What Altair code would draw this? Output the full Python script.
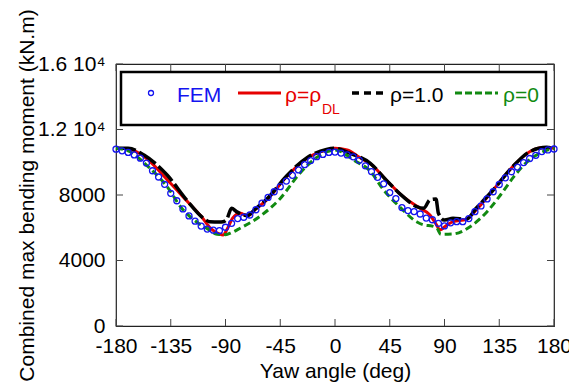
import altair as alt
import pandas as pd

# ---------------- data ----------------
fem_angle = list(range(-180, 181, 5))
fem_moment = [10800, 10700, 10600, 10450, 10250, 9950, 9480, 9100, 8650, 8100,
              7650, 7150, 6720, 6400, 6100, 5920, 5850, 5820, 6030, 6270,
              6560, 6640, 6780, 7100, 7500, 7850, 8200, 8510, 8850, 9200,
              9530, 9850, 10100, 10340, 10480, 10600, 10620, 10560, 10450, 10330,
              10120, 9780, 9430, 9080, 8680, 8150, 7780, 7230, 7050, 6990,
              6840, 6590, 6490, 6270, 6110, 6300, 6370, 6370, 6560, 6980,
              7330, 7760, 8200, 8640, 9050, 9420, 9700, 9980, 10230, 10420,
              10650, 10750, 10810]

dl_angle = [-180, -170, -160, -150, -140, -130, -120, -110, -102, -95, -92, -89,
            -84, -78, -72, -65, -56, -40, -23, -7, 0, 10, 20, 30, 42, 56, 70,
            78, 84, 86, 92, 97, 108, 116, 130, 146, 160, 172, 180]
dl_moment = [10850, 10820, 10500, 9900, 9100, 8300, 7500, 6700, 5950, 5620, 5560, 5860,
             6600, 6880, 6720, 7150, 7700, 9100, 10240, 10750, 10850, 10750, 10300, 9850, 8920, 7900, 7190,
             6780, 6100, 5860, 6170, 6370, 6520, 7085, 8305, 9730, 10645, 10900, 10850]

one_angle = [-180, -170, -157, -138, -122, -108, -103, -95, -92, -89, -85, -81,
             -72, -65, -56, -40, -23, -7, 0, 12, 29, 42, 56, 67, 73, 78, 83, 85,
             90, 97, 108, 116, 130, 146, 160, 174, 180]
one_moment = [10850, 10850, 10440, 9220, 7700, 6575, 6370, 6350, 6370, 6515, 7190, 6985,
              6750, 7180, 7750, 9150, 10280, 10780, 10850, 10550, 9935, 8915, 7900, 7290, 7190, 7700, 7750, 6880,
              6470, 6575, 6515, 7190, 8305, 9730, 10645, 10910, 10850]

zero_angle = [-180, -170, -155, -138, -126, -114, -104, -97, -90, -85, -78, -62,
              -45, -29, -12, -4, 0, 5, 15, 29, 40, 53, 67, 73, 80, 84, 87, 97,
              111, 125, 136, 147, 158, 171, 180]
zero_moment = [10850, 10700, 9830, 8510, 7190, 6370, 5900, 5600, 5580, 5700, 5970, 6680,
               7790, 9320, 10440, 10700, 10750, 10650, 10150, 9450, 8300, 7290, 6370, 6170, 6100, 5950, 5600, 5620,
               6065, 6980, 8000, 9120, 10030, 10645, 10850]

x_ticks = [-180, -135, -90, -45, 0, 45, 90, 135, 180]
y_ticks = [0, 4000, 8000, 12000, 16000]

# ---------------- styling ----------------
W, H = 438, 262
FONT = "Liberation Sans"
BLUE = "#1414f0"
RED = "#e60000"
GREEN = "#118a11"

xs = alt.Scale(domain=[-180, 180], nice=False, zero=False)
ys = alt.Scale(domain=[0, 16000], nice=False, zero=False)

x_axis = alt.Axis(values=x_ticks, title="Yaw angle (deg)", labelPadding=9,
                  labelExpr="'' + datum.value",
                  labelFlush=False, labelOverlap=False, titleY=51,
                  titleBaseline="alphabetic")
y_axis = alt.Axis(values=y_ticks, format="d", labelPadding=11,
                  labelExpr="datum.value == 16000 ? '1.6 10\u2074' : datum.value == 12000 ? '1.2 10\u2074' : '' + datum.value",
                  title="Combined max bending moment (kN.m)", titleAngle=270,
                  titleX=-83, titleY=H / 2, titleAlign="center",
                  titleBaseline="alphabetic", labelBaseline="middle")


def X(field):
    return alt.X(field, type="quantitative", scale=xs, axis=x_axis)


def Y(field):
    return alt.Y(field, type="quantitative", scale=ys, axis=y_axis)


def series_line(angle, moment, color, width, dash=None):
    df = pd.DataFrame({"yaw": angle, "m": moment})
    kw = dict(color=color, strokeWidth=width, interpolate="monotone")
    if dash:
        kw["strokeDash"] = dash
    return alt.Chart(df).mark_line(**kw).encode(x=X("yaw"), y=Y("m"))


red = series_line(dl_angle, dl_moment, RED, 3)
black = series_line(one_angle, one_moment, "black", 3.5, [20, 4])
green = series_line(zero_angle, zero_moment, GREEN, 3, [7, 4])
fem = alt.Chart(pd.DataFrame({"yaw": fem_angle, "m": fem_moment})).mark_point(
    shape="circle", filled=False, color=BLUE, size=36, strokeWidth=1.3, opacity=1
).encode(x=X("yaw"), y=Y("m"))

# inward ticks on all four sides
xt = pd.DataFrame({"t": x_ticks})
yt = pd.DataFrame({"t": y_ticks})
TC = "#444"
tick_bottom = alt.Chart(xt).mark_rule(color=TC, strokeWidth=1).encode(
    x=X("t"), y=alt.value(H), y2=alt.value(H - 7))
tick_top = alt.Chart(xt).mark_rule(color=TC, strokeWidth=1).encode(
    x=X("t"), y=alt.value(0), y2=alt.value(7))
tick_left = alt.Chart(yt).mark_rule(color=TC, strokeWidth=1).encode(
    y=Y("t"), x=alt.value(0), x2=alt.value(7))
tick_right = alt.Chart(yt).mark_rule(color=TC, strokeWidth=1).encode(
    y=Y("t"), x=alt.value(W), x2=alt.value(W - 7))

# manual legend
one = pd.DataFrame({"a": [0]})
box = alt.Chart(one).mark_rect(fill="white", stroke="black", strokeWidth=2.5).encode(
    x=alt.value(5), x2=alt.value(430), y=alt.value(8), y2=alt.value(61))
leg_pt = alt.Chart(one).mark_point(shape="circle", filled=False, color=BLUE,
                                   size=25, strokeWidth=1.3, opacity=1).encode(
    x=alt.value(35), y=alt.value(29))


def leg_text(txt, x, y, color, size=21):
    return alt.Chart(one).mark_text(align="left", baseline="alphabetic", font=FONT,
                                    fontSize=size, color=color).encode(
        x=alt.value(x), y=alt.value(y), text=alt.value(txt))


def leg_line(x1, x2, color, width, dash=None):
    kw = dict(color=color, strokeWidth=width)
    if dash:
        kw["strokeDash"] = dash
    return alt.Chart(one).mark_rule(**kw).encode(
        x=alt.value(x1), x2=alt.value(x2), y=alt.value(29))


legend = [
    box, leg_pt,
    leg_text("FEM", 61, 37.5, BLUE),
    leg_line(122, 165, RED, 3),
    leg_text("\u03c1=\u03c1", 169, 37.5, RED),
    leg_text("DL", 206, 50, RED, 14),
    leg_line(236, 267, "black", 3.5, [7, 5]),
    leg_text("\u03c1=1.0", 274, 37.5, "black"),
    leg_line(339, 382, GREEN, 3, [7, 3]),
    leg_text("\u03c1=0", 387, 37.5, GREEN),
]

chart = alt.layer(
    tick_bottom, tick_top, tick_left, tick_right,
    red, black, green, fem, *legend
).properties(
    width=W, height=H,
    autosize=alt.AutoSizeParams(type="none"),
    padding={"left": 108, "top": 56, "right": 15, "bottom": 60},
).configure_view(
    stroke="#222", strokeWidth=1.2
).configure_axis(
    grid=False, domain=False, ticks=False,
    labelFont=FONT, labelFontSize=21, labelColor="black",
    titleFont=FONT, titleFontSize=21, titleFontWeight="normal", titleColor="black",
)

chart.save("out.html", embed_options={"renderer": "svg", "actions": False})
